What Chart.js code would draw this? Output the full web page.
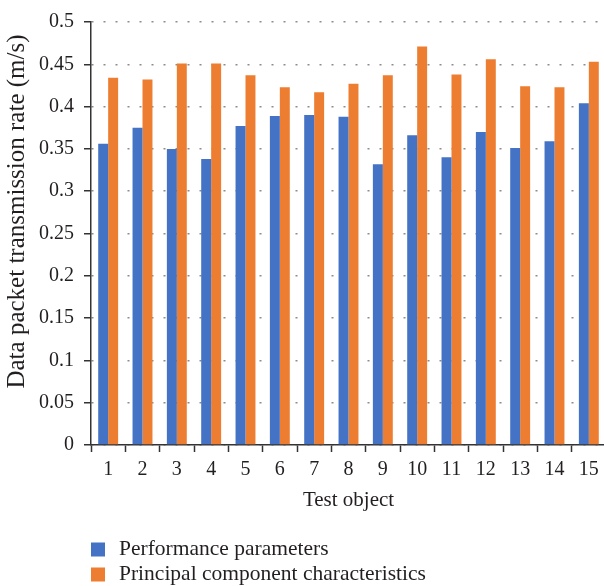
<!DOCTYPE html>
<html><head><meta charset="utf-8">
<script src="https://cdn.jsdelivr.net/npm/chart.js@4/dist/chart.umd.min.js"></script>
<style>
html,body{margin:0;padding:0;background:#fff;overflow:hidden;width:604px;height:586px}
canvas{display:block}
</style></head>
<body>
<canvas id="c" width="606" height="586" style="width:606px;height:586px"></canvas>
<script>
const categories = ['1','2','3','4','5','6','7','8','9','10','11','12','13','14','15'];
const performanceParameters = [0.356,0.375,0.350,0.338,0.377,0.389,0.390,0.388,0.332,0.366,0.340,0.370,0.351,0.359,0.404];
const principalComponent = [0.434,0.432,0.451,0.451,0.437,0.423,0.417,0.427,0.437,0.471,0.438,0.456,0.424,0.423,0.453];
const seriesNames = ['Performance parameters','Principal component characteristics'];
const yTitle = 'Data packet transmission rate (m/s)';
const xTitle = 'Test object';
const yMin = 0, yMax = 0.5, yStep = 0.05;

const FONT = '"Liberation Serif", "DejaVu Serif", serif';
const TXT = '#231f20';
const AXIS = '#333333';
const BLUE = '#4472c4';
const ORANGE = '#ed7d31';

const yTitlePlugin = {
  id: 'yTitle',
  afterDraw(chart) {
    const ctx = chart.ctx;
    ctx.save();
    ctx.translate(17, 211.5);
    ctx.rotate(-Math.PI / 2);
    ctx.font = '25px ' + FONT;
    ctx.fillStyle = TXT;
    ctx.textAlign = 'center';
    ctx.textBaseline = 'middle';
    ctx.fillText(yTitle, 0, 0);
    ctx.restore();
  }
};

const legendPlugin = {
  id: 'sideLegend',
  afterDraw(chart) {
    const ctx = chart.ctx;
    ctx.save();
    chart.data.datasets.forEach((ds, i) => {
      const cy = 549.5 + i * 25;
      ctx.fillStyle = ds.backgroundColor;
      ctx.fillRect(91, cy - 7, 14, 14);
      ctx.font = '21.5px ' + FONT;
      ctx.fillStyle = TXT;
      ctx.textAlign = 'left';
      ctx.textBaseline = 'middle';
      ctx.fillText(ds.label, 119, cy);
    });
    ctx.restore();
  }
};

new Chart(document.getElementById('c'), {
  type: 'bar',
  data: {
    labels: categories,
    datasets: [
      { label: seriesNames[0], data: performanceParameters, backgroundColor: BLUE, borderWidth: 0, barPercentage: 1, categoryPercentage: 0.58 },
      { label: seriesNames[1], data: principalComponent, backgroundColor: ORANGE, borderWidth: 0, barPercentage: 1, categoryPercentage: 0.58 }
    ]
  },
  options: {
    responsive: false,
    animation: false,
    layout: { padding: { top: 19, right: 0, bottom: 71, left: 0 } },
    plugins: { legend: { display: false }, tooltip: { enabled: false } },
    scales: {
      x: {
        grid: { offset: true, drawOnChartArea: false, drawTicks: true, tickLength: 7, tickColor: AXIS, tickWidth: 1.5 },
        border: { color: AXIS, width: 1.5 },
        ticks: { font: { family: FONT, size: 20 }, color: TXT, padding: 6, maxRotation: 0, autoSkip: false },
        title: { display: true, text: xTitle, font: { family: FONT, size: 21 }, color: TXT, padding: { top: 0, bottom: 2 } },
        afterFit(s) { s.height = 70; }
      },
      y: {
        min: yMin, max: yMax,
        ticks: {
          stepSize: yStep, font: { family: FONT, size: 20 }, color: TXT, padding: 10,
          callback(v) { return String(parseFloat(Number(v).toFixed(2))); }
        },
        grid: { color: '#8c8c8c', lineWidth: 1.5, tickLength: 7, tickColor: AXIS, tickWidth: 1.5, tickBorderDash: [] },
        border: { color: AXIS, width: 1.5, dash: [2, 10] },
        afterFit(s) { s.width = 91; }
      }
    }
  },
  plugins: [yTitlePlugin, legendPlugin]
});
</script>
</body></html>
